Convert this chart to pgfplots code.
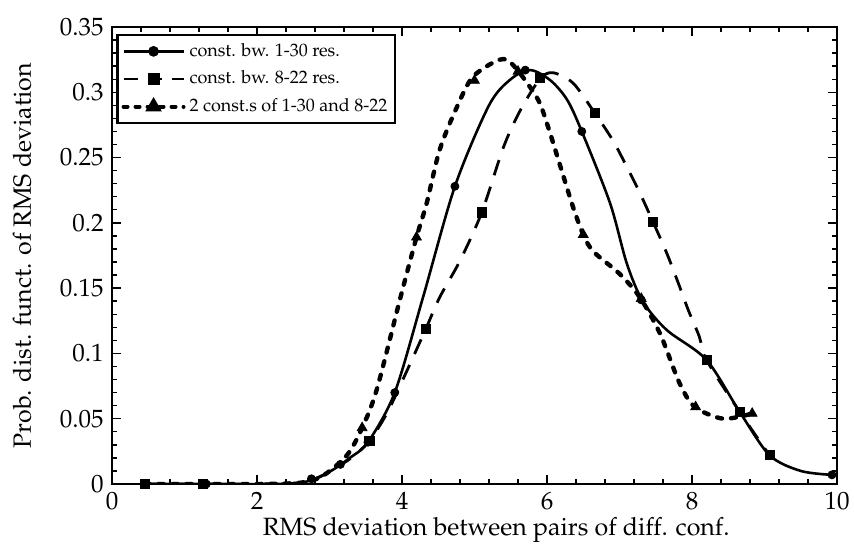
\documentclass[border=0pt,12pt]{standalone}
\usepackage[T1]{fontenc}
\usepackage{mathpazo}
\usepackage{pgfplots}
\pgfplotsset{compat=1.18}

\pgfplotstableread{
x y
0.45 0
1.3 0
2.2 0
2.6 0.001
2.8 0.004
3.05 0.011
3.28 0.020
3.53 0.032
3.9 0.070
4.29 0.143
4.73 0.228
5.2 0.290
5.5 0.310
5.77 0.317
6.05 0.309
6.28 0.294
6.48 0.270
6.87 0.215
7.1 0.169
7.32 0.140
7.65 0.118
8.2 0.095
8.66 0.055
9.07 0.022
9.5 0.010
9.93 0.007
}\solidline

\pgfplotstableread{
x y
0.45 0
1.25 0
2.0 0
2.6 0.001
2.85 0.005
3.1 0.013
3.3 0.020
3.55 0.033
3.8 0.055
4.07 0.087
4.33 0.119
4.52 0.143
4.8 0.171
5.1 0.208
5.4 0.258
5.63 0.286
5.9 0.310
6.08 0.315
6.36 0.307
6.66 0.284
6.91 0.263
7.1 0.243
7.28 0.223
7.46 0.201
7.65 0.177
7.81 0.154
7.95 0.133
8.1 0.113
8.2 0.095
8.66 0.055
9.07 0.022
}\dashedline

\pgfplotstableread{
x y
0.45 0
1.25 0
2.0 0
2.6 0.001
2.9 0.006
3.24 0.022
3.45 0.043
3.65 0.072
3.97 0.141
4.2 0.189
4.34 0.215
4.52 0.256
4.76 0.289
4.98 0.312
5.35 0.325
5.53 0.321
5.86 0.296
6.0 0.276
6.18 0.244
6.36 0.212
6.5 0.191
6.64 0.178
7.0 0.161
7.28 0.143
7.56 0.115
7.83 0.077
8.04 0.059
8.43 0.050
8.83 0.054
}\dottedline

\pgfplotstableread{
x y
0.45 0
1.3 0
2.75 0.004
3.15 0.015
3.53 0.032
3.9 0.070
4.73 0.228
5.7 0.317
6.48 0.270
7.3 0.141
9.07 0.022
9.93 0.007
}\solidmarks

\pgfplotstableread{
x y
0.45 0
1.25 0
3.55 0.033
4.33 0.119
5.1 0.208
5.9 0.311
6.66 0.284
7.46 0.201
8.2 0.095
8.66 0.055
9.07 0.022
}\dashedmarks

\pgfplotstableread{
x y
3.45 0.043
4.2 0.189
5.0 0.309
5.6 0.316
6.5 0.191
7.3 0.142
8.05 0.059
8.83 0.054
}\dottedmarks

\begin{document}
\begin{tikzpicture}
\path[use as bounding box] (-56pt,-38pt) rectangle (371pt,242pt);
\begin{axis}[
  scale only axis,
  width=362.5pt, height=228.5pt,
  xmin=0, xmax=10, ymin=0, ymax=0.35,
  xtick={0,2,4,6,8,10},
  ytick={0,0.05,0.1,0.15,0.2,0.25,0.3,0.35},
  yticklabels={0,0.05,0.1,0.15,0.2,0.25,0.3,0.35},
  minor x tick num=4,
  minor y tick num=4,
  major tick length=4.5pt,
  minor tick length=2.5pt,
  tick style={black, line width=0.7pt},
  axis line style={line width=1pt},
  scaled y ticks=false,
  tick label style={font=\fontsize{12.5}{14}\selectfont},
  label style={font=\fontsize{12.5}{14}\selectfont},
  xlabel={RMS deviation between pairs of diff. conf.},
  ylabel={Prob. dist. funct. of RMS deviation},
  xlabel style={at={(axis description cs:0.53,-0.1)}, anchor=center},
  ylabel style={at={(axis description cs:-0.124,0.5)}, anchor=center},
  legend cell align=left,
  legend style={at={(axis description cs:0.006,0.985)}, anchor=north west,
    draw=black, line width=1.2pt, inner sep=2pt, row sep=1.5pt,
    font=\fontsize{9}{10.5}\selectfont},
  legend image code/.code={\draw[mark repeat=2,mark phase=2,#1] plot coordinates {(0pt,0pt) (15pt,0pt) (30pt,0pt)};},
]
\addlegendimage{black, line width=1.3pt, mark=*, mark size=2pt, mark options={solid}}
\addlegendentry{const. bw. 1-30 res.}
\addlegendimage{black, line width=1.4pt, dash pattern=on 7pt off 5pt, mark=square*, mark size=2.3pt, mark options={solid}}
\addlegendentry{const. bw. 8-22 res.}
\addlegendimage{black, line width=2pt, line cap=round, dash pattern=on 2pt off 4pt, mark=triangle*, mark size=2.8pt, mark options={solid}}
\addlegendentry{2 const.s of 1-30 and 8-22}

\addplot[black, line width=1.3pt, smooth, tension=0.5, forget plot] table {\solidline};
\addplot[black, line width=1.4pt, dash pattern=on 8pt off 6pt, smooth, tension=0.5, forget plot] table {\dashedline};
\addplot[black, line width=2.2pt, line cap=round, dash pattern=on 2.5pt off 4.5pt, smooth, tension=0.5, forget plot] table {\dottedline};
\addplot[only marks, mark=*, mark size=2pt, black, forget plot] table {\solidmarks};
\addplot[only marks, mark=square*, mark size=2.3pt, black, forget plot] table {\dashedmarks};
\addplot[only marks, mark=triangle*, mark size=2.8pt, black, forget plot] table {\dottedmarks};
\end{axis}
\end{tikzpicture}
\end{document}
